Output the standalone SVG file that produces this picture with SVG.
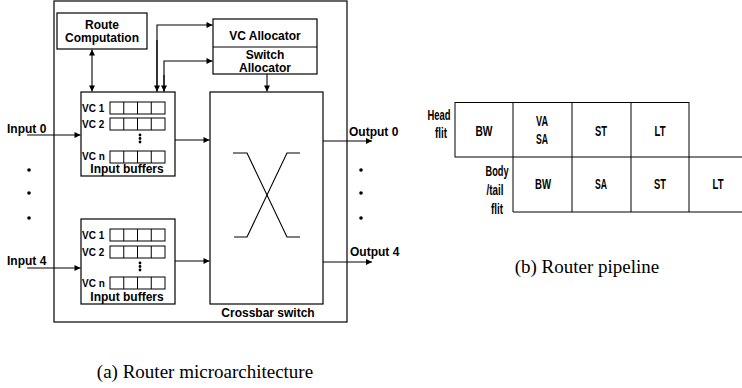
<svg xmlns="http://www.w3.org/2000/svg" width="742" height="388" viewBox="0 0 742 388">
<defs>
<marker id="ah" viewBox="0 0 10 10" refX="10" refY="5" markerWidth="8" markerHeight="6" markerUnits="userSpaceOnUse" orient="auto-start-reverse">
<path d="M0,0 L10,5 L0,10 z" fill="#000"/>
</marker>
<style>
.b{fill:#fff;stroke:#000;stroke-width:1.2}
.c{fill:none;stroke:#000;stroke-width:1}
.l{fill:none;stroke:#000;stroke-width:1.1}
.a{fill:none;stroke:#000;stroke-width:1.1;marker-end:url(#ah)}
.d{fill:none;stroke:#000;stroke-width:1.1;marker-start:url(#ah);marker-end:url(#ah)}
.t{font-family:"Liberation Sans",Arial,sans-serif;font-weight:bold;font-size:12px;fill:#000}
.v{font-family:"Liberation Sans",Arial,sans-serif;font-weight:bold;font-size:10px;fill:#000}
.m{text-anchor:middle}
.p{font-family:"Liberation Sans",Arial,sans-serif;font-weight:bold;font-size:14.5px;fill:#000;text-anchor:middle}
.cap{font-family:"Liberation Serif","Times New Roman",serif;font-size:19px;fill:#000;text-anchor:middle}
.dot{fill:#000}
</style>
</defs>
<rect x="0" y="0" width="742" height="388" fill="#fff"/>

<g id="router">
<rect x="54" y="1" width="293" height="321" fill="none" stroke="#000" stroke-width="1.2"/>
</g>

<g id="route-computation">
<rect class="b" x="57" y="13" width="90" height="36"/>
<text class="t m" x="102" y="29">Route</text>
<text class="t m" x="102" y="42">Computation</text>
</g>

<g id="allocators">
<rect class="b" x="213" y="19" width="104" height="55"/>
<line class="l" x1="213" y1="47" x2="317" y2="47"/>
<text class="t m" x="265" y="40">VC Allocator</text>
<text class="t m" x="265" y="59">Switch</text>
<text class="t m" x="265" y="72">Allocator</text>
</g>

<g id="input-buffers-0">
<rect class="b" x="81" y="92" width="94" height="84"/>
<text class="v" x="82" y="112">VC 1</text>
<text class="v" x="82" y="128">VC 2</text>
<text class="v" x="82" y="160">VC n</text>
<g class="c">
<rect x="110" y="102" width="55" height="12"/>
<line x1="123.75" y1="102" x2="123.75" y2="114"/><line x1="137.5" y1="102" x2="137.5" y2="114"/><line x1="151.25" y1="102" x2="151.25" y2="114"/>
<rect x="110" y="118" width="55" height="12"/>
<line x1="123.75" y1="118" x2="123.75" y2="130"/><line x1="137.5" y1="118" x2="137.5" y2="130"/><line x1="151.25" y1="118" x2="151.25" y2="130"/>
<rect x="110" y="151" width="55" height="12"/>
<line x1="123.75" y1="151" x2="123.75" y2="163"/><line x1="137.5" y1="151" x2="137.5" y2="163"/><line x1="151.25" y1="151" x2="151.25" y2="163"/>
</g>
<circle class="dot" cx="140" cy="135" r="1.4"/><circle class="dot" cx="140" cy="138.5" r="1.4"/><circle class="dot" cx="140" cy="142" r="1.4"/>
<text class="t m" x="127" y="173">Input buffers</text>
</g>

<g id="input-buffers-4">
<rect class="b" x="81" y="219" width="94" height="85"/>
<text class="v" x="82" y="239">VC 1</text>
<text class="v" x="82" y="256">VC 2</text>
<text class="v" x="82" y="287">VC n</text>
<g class="c">
<rect x="110" y="229" width="55" height="12"/>
<line x1="123.75" y1="229" x2="123.75" y2="241"/><line x1="137.5" y1="229" x2="137.5" y2="241"/><line x1="151.25" y1="229" x2="151.25" y2="241"/>
<rect x="110" y="246" width="55" height="12"/>
<line x1="123.75" y1="246" x2="123.75" y2="258"/><line x1="137.5" y1="246" x2="137.5" y2="258"/><line x1="151.25" y1="246" x2="151.25" y2="258"/>
<rect x="110" y="277" width="55" height="12"/>
<line x1="123.75" y1="277" x2="123.75" y2="289"/><line x1="137.5" y1="277" x2="137.5" y2="289"/><line x1="151.25" y1="277" x2="151.25" y2="289"/>
</g>
<circle class="dot" cx="140" cy="263" r="1.4"/><circle class="dot" cx="140" cy="266.5" r="1.4"/><circle class="dot" cx="140" cy="270" r="1.4"/>
<text class="t m" x="127" y="301">Input buffers</text>
</g>

<g id="crossbar">
<rect class="b" x="210" y="92" width="113" height="212"/>
<polyline class="l" points="233,153 247,153 287,237 300,237"/>
<polyline class="l" points="300,153 287,153 247,237 234,237"/>
<text class="t m" x="268" y="317">Crossbar switch</text>
</g>

<g id="io-labels">
<text class="t" x="7" y="133">Input 0</text>
<text class="t" x="7" y="265">Input 4</text>
<text class="t" x="349" y="136">Output 0</text>
<text class="t" x="350" y="256">Output 4</text>
<circle class="dot" cx="29" cy="170" r="1.8"/>
<circle class="dot" cx="29" cy="193" r="1.8"/>
<circle class="dot" cx="29" cy="218" r="1.8"/>
<circle class="dot" cx="361" cy="170" r="1.8"/>
<circle class="dot" cx="361" cy="193" r="1.8"/>
<circle class="dot" cx="361" cy="218" r="1.8"/>
</g>

<g id="connectors">
<line class="d" x1="92" y1="49.5" x2="92" y2="91.5"/>
<polyline class="a" points="157,91.5 157,25 212.5,25"/>
<line class="a" x1="157" y1="40" x2="157" y2="91.5"/>
<polyline class="a" points="164,91.5 164,61 212.5,61"/>
<line class="a" x1="164" y1="75" x2="164" y2="91.5"/>
<line class="a" x1="267" y1="74" x2="267" y2="91.5"/>
<line class="a" x1="27" y1="135" x2="80.5" y2="135"/>
<line class="a" x1="27" y1="268" x2="80.5" y2="268"/>
<line class="a" x1="175" y1="140" x2="209.5" y2="140"/>
<line class="a" x1="175" y1="261" x2="209.5" y2="261"/>
<line class="a" x1="323" y1="141" x2="372" y2="141"/>
<line class="a" x1="323" y1="262" x2="372" y2="262"/>
</g>

<g id="pipeline">
<g class="c">
<rect x="455" y="102.5" width="234" height="54.5"/>
<line x1="513" y1="102.5" x2="513" y2="212"/>
<line x1="572" y1="102.5" x2="572" y2="212"/>
<line x1="631" y1="102.5" x2="631" y2="212"/>
<line x1="689" y1="157" x2="689" y2="212"/>
<line x1="689" y1="157" x2="742" y2="157"/>
<line x1="513" y1="212" x2="742" y2="212"/>
</g>
<text class="p" x="439" y="120" textLength="23" lengthAdjust="spacingAndGlyphs">Head</text>
<text class="p" x="441" y="138" textLength="12" lengthAdjust="spacingAndGlyphs">flit</text>
<text class="p" x="484" y="136" textLength="17" lengthAdjust="spacingAndGlyphs">BW</text>
<text class="p" x="542" y="126" textLength="12" lengthAdjust="spacingAndGlyphs">VA</text>
<text class="p" x="542" y="144" textLength="12" lengthAdjust="spacingAndGlyphs">SA</text>
<text class="p" x="601" y="136" textLength="12" lengthAdjust="spacingAndGlyphs">ST</text>
<text class="p" x="660" y="136" textLength="11" lengthAdjust="spacingAndGlyphs">LT</text>
<text class="p" x="497" y="176" textLength="23" lengthAdjust="spacingAndGlyphs">Body</text>
<text class="p" x="495" y="195" textLength="17" lengthAdjust="spacingAndGlyphs">/tail</text>
<text class="p" x="497" y="214" textLength="12" lengthAdjust="spacingAndGlyphs">flit</text>
<text class="p" x="543" y="189" textLength="16" lengthAdjust="spacingAndGlyphs">BW</text>
<text class="p" x="601" y="189" textLength="12" lengthAdjust="spacingAndGlyphs">SA</text>
<text class="p" x="660" y="189" textLength="12" lengthAdjust="spacingAndGlyphs">ST</text>
<text class="p" x="718" y="189" textLength="11" lengthAdjust="spacingAndGlyphs">LT</text>
</g>

<g id="captions">
<text class="cap" x="205" y="378">(a) Router microarchitecture</text>
<text class="cap" x="587" y="273">(b) Router pipeline</text>
</g>
</svg>
